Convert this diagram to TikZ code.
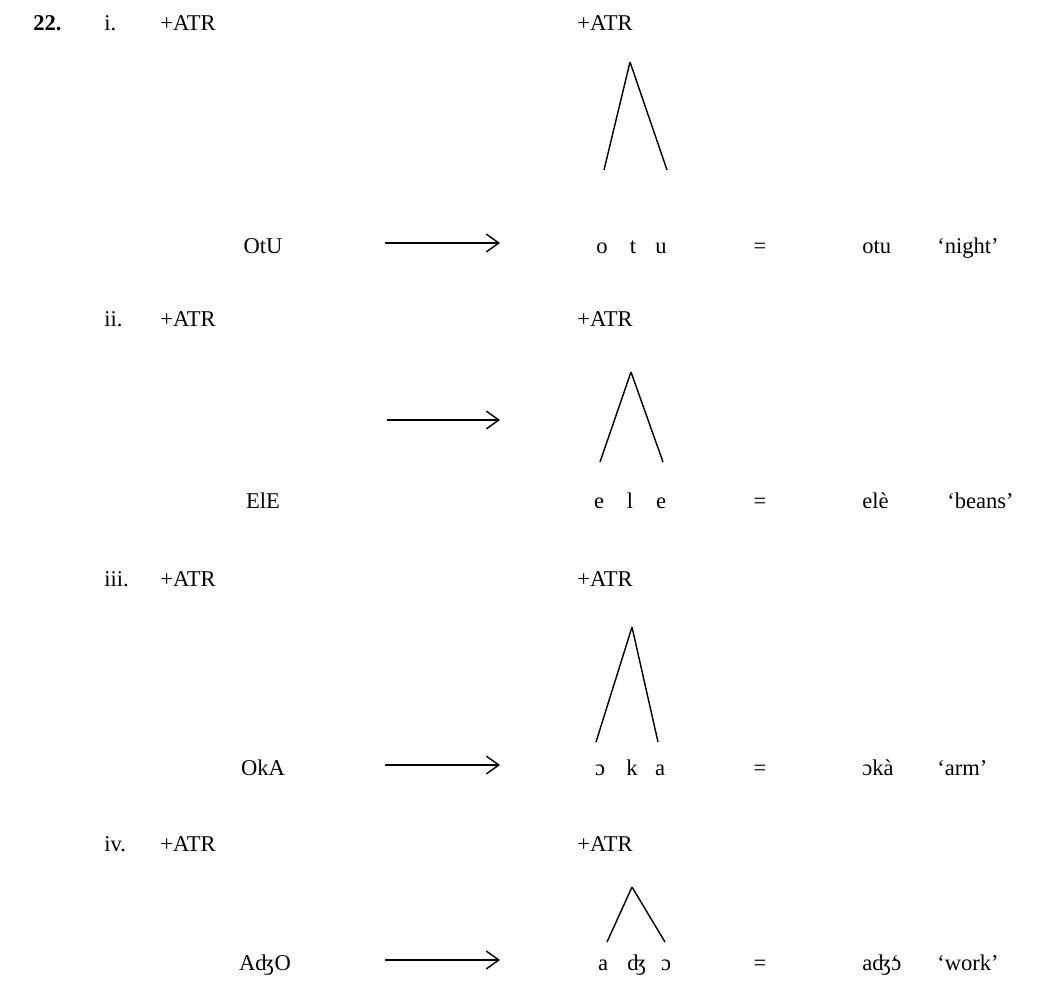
\documentclass[tikz,border=0pt]{standalone}
\usepackage{fontspec}
\setmainfont{Liberation Serif}
\usetikzlibrary{arrows.meta}
\newcommand{\opengrave}{\ooalign{ɔ\cr\hidewidth\char"60\kern0.12em\hidewidth\cr}}

\begin{document}
\begin{tikzpicture}[x=0.5587pt,y=-0.5587pt,
    every node/.style={font=\fontsize{12.6}{15}\selectfont,inner sep=0pt,anchor=base},
    lft/.style={anchor=base west},
    assoc/.style={line width=0.8pt},
    rule/.style={line width=0.8pt,-{Straight Barb[length=7pt,width=10pt]}}]
    \useasboundingbox (0,0) rectangle (1048,996);

    \node[lft,font=\fontsize{12.6}{15}\selectfont\bfseries] (ex) at (33,30) {22.};

    \node[lft] (n1) at (104,30) {i.};
    \node[lft] (fa1) at (160,30) {+ATR};
    \node[lft] (fb1) at (577,30) {+ATR};
    \node (in1) at (263,253) {OtU};
    \node (s11) at (602,253) {o};
    \node (s12) at (633,253) {t};
    \node (s13) at (661,253) {u};
    \node (eq1) at (760,253) {=};
    \node[lft] (gl1) at (862,253) {otu};
    \node[lft] (tr1) at (937,253) {‘night’};
    \coordinate (top1) at (630,62);
    \coordinate (l1) at (604,170);
    \coordinate (r1) at (667,170);
    \coordinate (a1) at (385,243);
    \coordinate (b1) at (500,243);

    \node[lft] (n2) at (104,326) {ii.};
    \node[lft] (fa2) at (160,326) {+ATR};
    \node[lft] (fb2) at (577,326) {+ATR};
    \node (in2) at (263,508) {ElE};
    \node (s21) at (599,508) {e};
    \node (s22) at (630,508) {l};
    \node (s23) at (661,508) {e};
    \node (eq2) at (760,508) {=};
    \node[lft] (gl2) at (862,508) {elè};
    \node[lft] (tr2) at (947,508) {‘beans’};
    \coordinate (top2) at (631,372);
    \coordinate (l2) at (600,462);
    \coordinate (r2) at (663,462);
    \coordinate (a2) at (387,420);
    \coordinate (b2) at (500,420);

    \node[lft] (n3) at (104,586) {iii.};
    \node[lft] (fa3) at (160,586) {+ATR};
    \node[lft] (fb3) at (577,586) {+ATR};
    \node (in3) at (263,775) {OkA};
    \node (s31) at (600,775) {ɔ};
    \node (s32) at (632,775) {k};
    \node (s33) at (660,775) {a};
    \node (eq3) at (760,775) {=};
    \node[lft] (gl3) at (862,775) {ɔkà};
    \node[lft] (tr3) at (937,775) {‘arm’};
    \coordinate (top3) at (632,627);
    \coordinate (l3) at (596,742);
    \coordinate (r3) at (658,742);
    \coordinate (a3) at (385,765);
    \coordinate (b3) at (500,765);

    \node[lft] (n4) at (104,851) {iv.};
    \node[lft] (fa4) at (160,851) {+ATR};
    \node[lft] (fb4) at (577,851) {+ATR};
    \node (in4) at (265,970) {AʤO};
    \node (s41) at (603,970) {a};
    \node (s42) at (637,970) {ʤ};
    \node (s43) at (666,970) {ɔ};
    \node (eq4) at (760,970) {=};
    \node[lft] (gl4) at (862,970) {aʤ\opengrave};
    \node[lft] (tr4) at (937,970) {‘work’};
    \coordinate (top4) at (632,887);
    \coordinate (l4) at (607,942);
    \coordinate (r4) at (665,942);
    \coordinate (a4) at (385,960);
    \coordinate (b4) at (500,960);

    \draw[assoc] (top1)--(l1);
    \draw[assoc] (top1)--(r1);
    \draw[assoc] (top2)--(l2);
    \draw[assoc] (top2)--(r2);
    \draw[assoc] (top3)--(l3);
    \draw[assoc] (top3)--(r3);
    \draw[assoc] (top4)--(l4);
    \draw[assoc] (top4)--(r4);

    \draw[rule] (a1)--(b1);
    \draw[rule] (a2)--(b2);
    \draw[rule] (a3)--(b3);
    \draw[rule] (a4)--(b4);
\end{tikzpicture}
\end{document}
